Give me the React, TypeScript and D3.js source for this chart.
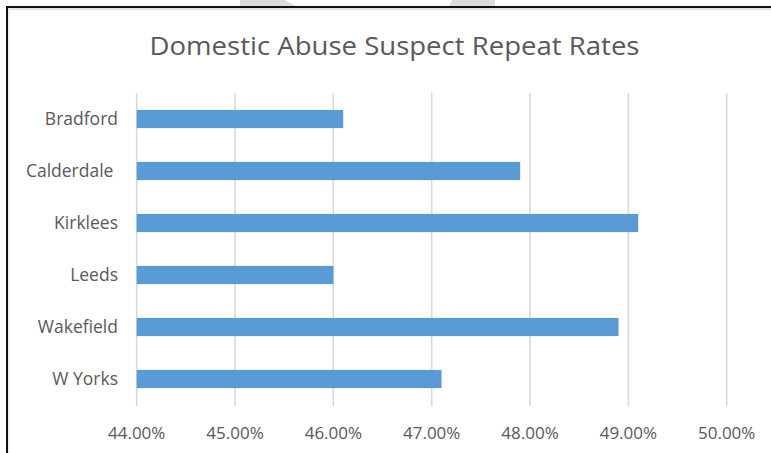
import React from "react";
import * as d3 from "d3";

const categories = ["Bradford", "Calderdale ", "Kirklees", "Leeds", "Wakefield", "W Yorks"];
const values = [46.1, 47.9, 49.1, 46.0, 48.9, 47.1];
const tickValues = [44, 45, 46, 47, 48, 49, 50];
const title = "Domestic Abuse Suspect Repeat Rates";

const W = 771;
const H = 453;
const FONT = "'Open Sans', 'Noto Sans', sans-serif";

export default function App() {
  const x = d3.scaleLinear().domain([44, 50]).range([136.7, 726.7]);
  const y = d3
    .scaleBand<string>()
    .domain(categories)
    .range([93, 405])
    .paddingInner(0.65)
    .paddingOuter(0.325);
  const fmt = (v: number) => d3.format(".2f")(v) + "%";

  return (
    <svg
      width={W}
      height={H}
      style={{ position: "absolute", left: 0, top: 0, background: "#fff" }}
    >
      <rect x={0} y={0} width={W} height={H} fill="#fff" />
      {/* faint watermark shapes above the frame */}
      <polygon points="240,0 285,0 296,6 240,6" fill="#dcdcdc" />
      <polygon points="452,0 495,0 495,6 449,6" fill="#dcdcdc" />
      {/* frame */}
      <line x1={7} y1={7} x2={W} y2={7} stroke="#111" strokeWidth={2} />
      <line x1={7} y1={6} x2={7} y2={H} stroke="#111" strokeWidth={2} />
      <line x1={8} y1={9} x2={W} y2={9} stroke="#e6e6e6" strokeWidth={2} />
      <line x1={9} y1={8} x2={9} y2={H} stroke="#ececec" strokeWidth={1.5} />

      <text
        x={394.5}
        y={55}
        textAnchor="middle"
        fontFamily={FONT}
        fontSize={25}
        textLength={490}
        lengthAdjust="spacingAndGlyphs"
        fill="#595959"
      >
        {title}
      </text>

      {/* gridlines */}
      {tickValues.map((t) => (
        <line
          key={"g" + t}
          x1={x(t)}
          x2={x(t)}
          y1={93}
          y2={406}
          stroke="#d9d9d9"
          strokeWidth={1.6}
        />
      ))}

      {/* bars */}
      {categories.map((c, i) => (
        <rect
          key={c}
          x={x(44)}
          y={y(c)!}
          width={x(values[i]) - x(44)}
          height={y.bandwidth()}
          fill="#5B9BD5"
        />
      ))}

      {/* category labels */}
      {categories.map((c) => (
        <text
          key={"l" + c}
          x={118}
          y={y(c)! + y.bandwidth() / 2}
          dy="0.35em"
          textAnchor="end"
          fontFamily={FONT}
          fontSize={17.5}
          fill="#595959"
          style={{ whiteSpace: "pre" }}
        >
          {c}
        </text>
      ))}

      {/* tick labels */}
      {tickValues.map((t) => (
        <text
          key={"t" + t}
          x={x(t)}
          y={438.5}
          textAnchor="middle"
          fontFamily={FONT}
          fontSize={17}
          fill="#595959"
        >
          {fmt(t)}
        </text>
      ))}
    </svg>
  );
}
